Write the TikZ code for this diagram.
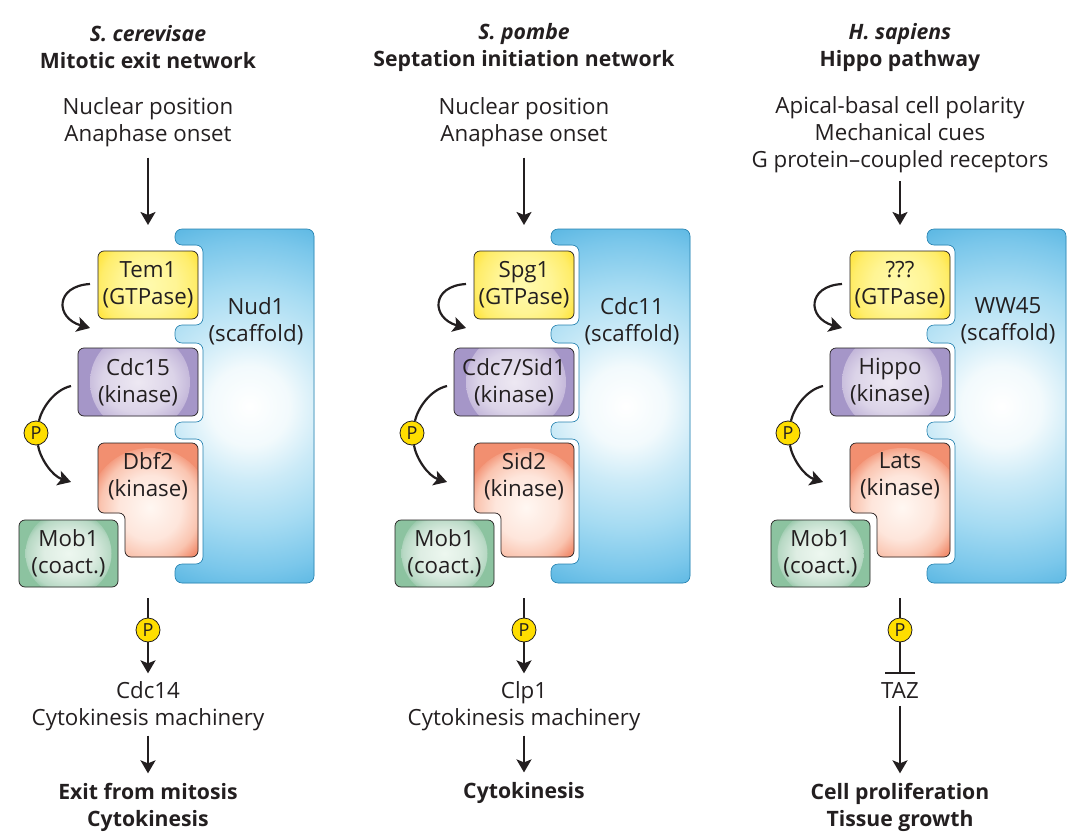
\documentclass[tikz,border=0pt]{standalone}
\usepackage{fontspec}
\setmainfont{Open Sans}
\usetikzlibrary{arrows.meta}
\definecolor{inkdark}{RGB}{35,31,32}
\definecolor{yellowp}{RGB}{255,222,0}
\definecolor{scafbase}{RGB}{82,178,224}
\definecolor{scafline}{RGB}{40,130,175}
\definecolor{gtpbase}{RGB}{255,230,69}
\definecolor{kinbase}{RGB}{165,150,200}
\definecolor{latsbase}{RGB}{242,143,112}
\definecolor{mobbase}{RGB}{140,195,160}
\pgfdeclareradialshading{scaffoldshade}{\pgfpoint{0bp}{0bp}}{rgb(0bp)=(1,1,1);rgb(5bp)=(0.95,0.98,0.99);rgb(9.4bp)=(0.80,0.92,0.97);rgb(15bp)=(0.65,0.86,0.95);rgb(20.6bp)=(0.48,0.78,0.92);rgb(25bp)=(0.32,0.70,0.88);rgb(50bp)=(0.32,0.70,0.88)}
\pgfdeclareradialshading{gtpaseshade}{\pgfpoint{0bp}{0bp}}{rgb(0bp)=(1,0.98,0.68);rgb(12.5bp)=(1,0.96,0.58);rgb(21bp)=(1,0.93,0.42);rgb(25bp)=(1,0.90,0.27);rgb(50bp)=(1,0.90,0.27)}
\pgfdeclareradialshading{kinaseshade}{\pgfpoint{0bp}{0bp}}{rgb(0bp)=(0.93,0.91,0.95);rgb(15bp)=(0.86,0.83,0.91);rgb(22.5bp)=(0.76,0.71,0.85);rgb(25bp)=(0.65,0.59,0.78);rgb(50bp)=(0.65,0.59,0.78)}
\pgfdeclareradialshading{latsshade}{\pgfpoint{0bp}{0bp}}{rgb(0bp)=(1,0.97,0.95);rgb(12.5bp)=(0.995,0.90,0.86);rgb(20bp)=(0.98,0.77,0.69);rgb(25bp)=(0.95,0.56,0.44);rgb(50bp)=(0.95,0.56,0.44)}
\pgfdeclareradialshading{mobshade}{\pgfpoint{0bp}{0bp}}{rgb(0bp)=(0.93,0.97,0.94);rgb(12.5bp)=(0.87,0.93,0.89);rgb(21bp)=(0.72,0.85,0.77);rgb(25bp)=(0.55,0.76,0.63);rgb(50bp)=(0.55,0.76,0.63)}
\tikzset{
  txt/.style={font=\fontsize{22.3}{27}\selectfont, text=inkdark, align=center, inner sep=0pt, outer sep=5pt},
  hdr/.style={txt, font=\fontsize{21.2}{27}\selectfont\bfseries},
  boxline/.style={draw=inkdark, line width=0.7pt, rounded corners=6pt},
  gtpbox/.style={txt, boxline, fill=gtpbase, minimum width=100pt, minimum height=68pt, outer sep=0pt,
    path picture={\shade[shading=gtpaseshade] (path picture bounding box.center) circle (56pt);}},
  kinbox/.style={txt, boxline, fill=kinbase, minimum width=120pt, minimum height=68pt, outer sep=0pt,
    path picture={\shade[shading=kinaseshade] ([xshift=2pt]path picture bounding box.center) circle (50pt);}},
  mobbox/.style={txt, boxline, fill=mobbase, minimum width=99pt, minimum height=67pt, outer sep=0pt,
    path picture={\shade[shading=mobshade] (path picture bounding box.center) circle (43pt);}},
  phos/.style={circle, draw=inkdark, line width=0.8pt, fill=yellowp, minimum size=24pt, inner sep=0pt, font=\fontsize{18}{18}\selectfont, text=inkdark},
  flow/.style={line width=2.2pt, draw=inkdark, -{Stealth[length=13pt,width=15pt,inset=3pt]}},
  plain/.style={line width=2.2pt, draw=inkdark}
}
\begin{document}
\begin{tikzpicture}[x=1pt,y=-1pt]
  \useasboundingbox (0,0) rectangle (1077,838);
  % the three columns share their boxes
  \foreach \n/\dx/\gname/\kname/\lname/\sname in {a/0/Tem1/Cdc15/Dbf2/Nud1, b/376/Spg1/{Cdc7/Sid1}/Sid2/Cdc11, c/752/???/Hippo/Lats/WW45} {
    \begin{scope}[xshift=\dx pt]
      \path[draw=scafline, line width=0.6pt, rounded corners=7pt, fill=scafbase,
        path picture={\shade[shading=scaffoldshade] ([xshift=5pt]path picture bounding box.center) circle (200pt);}]
        (175,229) -- (314,229) -- (314,583) -- (175,583) -- (175,564) -- (203,564) -- (203,439)
        -- (175,439) -- (175,422) -- (203,422) -- (203,343) -- (175,343) -- (175,325)
        -- (203,325) -- (203,245) -- (175,245) -- cycle;
      \node[txt] (s\n) at (256,321) {\sname\\(scaffold)};
      \node[gtpbox] (g\n) at (148,285) {\gname\\(GTPase)};
      \node[kinbox] (k\n) at (138,382) {\kname\\(kinase)};
      \path[boxline, fill=latsbase,
        path picture={\shade[shading=latsshade] ([xshift=2pt,yshift=-10pt]path picture bounding box.center) circle (62pt);}]
        (98,443) -- (198,443) -- (198,557) -- (125,557) -- (125,513) -- (98,513) -- cycle;
      \node[txt] (l\n) at (148,476) {\lname\\(kinase)};
      \node[mobbox] (m\n) at (68.5,553.5) {Mob1\\(coact.)};
      \coordinate (gout\n) at (90,284);
      \coordinate (kin\n) at (90,328);
      \coordinate (kout\n) at (71,386);
      \coordinate (lin\n) at (71,482);
      \node[phos] (p\n) at (36,433) {P};
      \draw[flow] (gout\n) .. controls (55,286) and (55,318) .. (kin\n);
      \draw[plain] (kout\n) .. controls (54,390) and (42,408) .. (p\n);
      \draw[flow] (p\n) .. controls (40,458) and (52,476) .. (lin\n);
    \end{scope}
  }
  % left column
  \node[hdr] (ha) at (148,47) {\textit{S. cerevisae}\\Mitotic exit network};
  \node[txt] (ia) at (148,122) {Nuclear position\\Anaphase onset};
  \coordinate (ta) at (148,225);
  \coordinate (ba) at (148,598);
  \node[phos] (qa) at (148,630) {P};
  \node[txt] (ca) at (148,706) {Cdc14\\Cytokinesis machinery};
  \node[hdr] (ea) at (148,807.5) {Exit from mitosis\\Cytokinesis};
  \draw[flow, shorten <=6pt] (ia) -- (ta);
  \draw[plain] (ba) -- (qa);
  \draw[flow, shorten >=3pt] (qa) -- (ca);
  \draw[flow, shorten >=5pt] (ca) -- (ea);
  % middle column
  \node[hdr] (hb) at (524,47) {\textit{S. pombe}\\Septation initiation network};
  \node[txt] (ib) at (524,122) {Nuclear position\\Anaphase onset};
  \coordinate (tb) at (524,225);
  \coordinate (bb) at (524,598);
  \node[phos] (qb) at (524,630) {P};
  \node[txt] (cb) at (524,706) {Clp1\\Cytokinesis machinery};
  \node[hdr] (eb) at (524,793) {Cytokinesis};
  \draw[flow, shorten <=6pt] (ib) -- (tb);
  \draw[plain] (bb) -- (qb);
  \draw[flow, shorten >=3pt] (qb) -- (cb);
  \draw[flow, shorten >=5pt] (cb) -- (eb);
  % right column
  \node[hdr] (hc) at (900,47) {\textit{H. sapiens}\\Hippo pathway};
  \node[txt] (ic) at (900,135) {Apical-basal cell polarity\\Mechanical cues\\G protein--coupled receptors};
  \coordinate (tc) at (900,225);
  \coordinate (bc) at (900,598);
  \node[phos] (qc) at (900,630) {P};
  \node[txt] (cc) at (900,690) {TAZ};
  \node[hdr] (ec) at (900,807.5) {Cell proliferation\\Tissue growth};
  \draw[flow, shorten <=3pt] (ic) -- (tc);
  \draw[plain] (bc) -- (qc);
  \draw[line width=2.2pt, draw=inkdark, shorten >=3pt, -{Bar[width=30pt,line width=2pt]}] (qc) -- (cc);
  \draw[flow, shorten <=3pt, shorten >=5pt] (cc) -- (ec);
\end{tikzpicture}
\end{document}
